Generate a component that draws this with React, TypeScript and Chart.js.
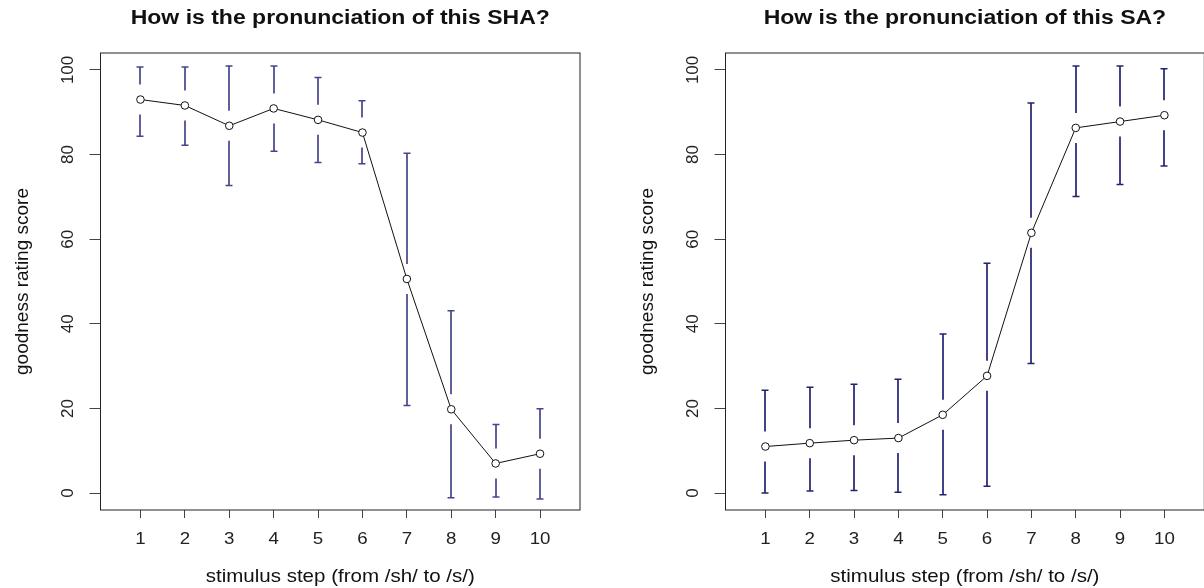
import React, { useEffect, useRef } from 'react';
import { Chart, registerables } from 'chart.js';

Chart.register(...registerables);

// ---- data ----
const steps = [1, 2, 3, 4, 5, 6, 7, 8, 9, 10];
const xTickValues = [1, 2, 3, 4, 5, 6, 7, 8, 9, 10];
const yTickValues = [0, 20, 40, 60, 80, 100];

const shaMean = [93.0, 91.6, 86.8, 90.9, 88.2, 85.2, 50.6, 19.8, 7.0, 9.3];
const shaUpper = [100.7, 100.7, 100.9, 100.9, 98.2, 92.7, 80.3, 43.1, 16.2, 19.9];
const shaLower = [84.3, 82.2, 72.7, 80.8, 78.1, 77.8, 20.7, -1.1, -0.9, -1.4];

const saMean = [11.0, 11.8, 12.5, 13.0, 18.5, 27.7, 61.5, 86.3, 87.8, 89.3];
const saUpper = [24.3, 25.0, 25.7, 26.9, 37.6, 54.3, 92.2, 100.9, 100.9, 100.3];
const saLower = [0.0, 0.5, 0.6, 0.2, -0.4, 1.6, 30.6, 70.1, 72.9, 77.3];

const titleSHA = 'How is the pronunciation of this SHA?';
const titleSA = 'How is the pronunciation of this SA?';
const xLabel = 'stimulus step (from /sh/ to /s/)';
const yLabel = 'goodness rating score';

const FONT = "'Liberation Sans', Arial, sans-serif";

function drawText(
  ctx: CanvasRenderingContext2D,
  s: string,
  x: number,
  y: number,
  font: string,
  color: string,
  rot = 0,
  sx = 1
) {
  ctx.save();
  ctx.translate(x, y);
  if (rot) ctx.rotate(rot);
  ctx.scale(sx, 1);
  ctx.font = font;
  ctx.fillStyle = color;
  ctx.textAlign = 'center';
  ctx.textBaseline = 'alphabetic';
  ctx.fillText(s, 0, 0);
  ctx.restore();
}

type PanelProps = {
  title: string;
  mean: number[];
  upper: number[];
  lower: number[];
  barColor: string;
  left: number;
  width: number;
  axisWidth: number;
  padRight: number;
};

function Panel({ title, mean, upper, lower, barColor, left, width, axisWidth, padRight }: PanelProps) {
  const ref = useRef<HTMLCanvasElement>(null);

  useEffect(() => {
    if (!ref.current) return;

    const errorBars = {
      id: 'errorBars',
      beforeDatasetsDraw(chart: any) {
        const { ctx, scales } = chart;
        const xs = scales.x;
        const ys = scales.y;
        const gap = 15;
        const cap = 3.5;
        ctx.save();
        ctx.strokeStyle = barColor;
        ctx.lineCap = 'butt';
        for (let i = 0; i < steps.length; i++) {
          const px = Math.round(xs.getPixelForValue(steps[i]));
          const pm = ys.getPixelForValue(mean[i]);
          const pu = ys.getPixelForValue(upper[i]);
          const pl = ys.getPixelForValue(lower[i]);
          ctx.lineWidth = 1.7;
          ctx.beginPath();
          if (pm - gap > pu) {
            ctx.moveTo(px, pu);
            ctx.lineTo(px, pm - gap);
          }
          if (pm + gap < pl) {
            ctx.moveTo(px, pm + gap);
            ctx.lineTo(px, pl);
          }
          ctx.stroke();
          ctx.lineWidth = 1.5;
          ctx.beginPath();
          ctx.moveTo(px - cap, pu);
          ctx.lineTo(px + cap, pu);
          ctx.moveTo(px - cap, pl);
          ctx.lineTo(px + cap, pl);
          ctx.stroke();
        }
        ctx.restore();
      },
    };

    const decor = {
      id: 'decor',
      afterDraw(chart: any) {
        const { ctx, chartArea: ca, scales } = chart;
        const xs = scales.x;
        const ys = scales.y;
        ctx.save();
        // box
        ctx.strokeStyle = '#222';
        ctx.lineWidth = 1;
        ctx.strokeRect(ca.left, ca.top, ca.right - ca.left, ca.bottom - ca.top);
        const cx = (ca.left + ca.right) / 2;
        const cy = (ca.top + ca.bottom) / 2;
        // title
        drawText(ctx, title, cx, 24, `bold 20px ${FONT}`, '#111', 0, 1.15);
        // x tick labels
        for (const v of xTickValues) {
          drawText(ctx, String(v), xs.getPixelForValue(v), 544, `17px ${FONT}`, '#222', 0, 1.1);
        }
        // y tick labels
        for (const v of yTickValues) {
          drawText(ctx, String(v), ca.left - 27.2, ys.getPixelForValue(v), `17px ${FONT}`, '#222', -Math.PI / 2, 1);
        }
        // axis titles
        drawText(ctx, xLabel, cx, 582, `19px ${FONT}`, '#111', 0, 1.08);
        drawText(ctx, yLabel, ca.left - 73, cy, `19px ${FONT}`, '#111', -Math.PI / 2, 1);
        ctx.restore();
      },
    };

    const chart = new Chart(ref.current, {
      type: 'line',
      data: {
        datasets: [
          {
            data: steps.map((s, i) => ({ x: s, y: mean[i] })),
            borderColor: '#111',
            borderWidth: 1,
            pointRadius: 3.8,
            pointBorderWidth: 1,
            pointBorderColor: '#111',
            pointBackgroundColor: '#fff',
            tension: 0,
            fill: false,
          },
        ],
      },
      options: {
        animation: false,
        responsive: false,
        events: [],
        layout: { padding: { top: 53, right: padRight, bottom: 0, left: 0 } },
        plugins: {
          legend: { display: false },
          tooltip: { enabled: false },
          title: { display: false },
        },
        scales: {
          x: {
            type: 'linear',
            min: 0.1,
            max: 10.9,
            afterBuildTicks: (s: any) => {
              s.ticks = xTickValues.map((v) => ({ value: v }));
            },
            afterFit: (s: any) => {
              s.height = 78;
            },
            ticks: { display: false },
            grid: {
              display: true,
              drawOnChartArea: false,
              drawTicks: true,
              tickLength: 8,
              tickColor: '#444',
              tickWidth: 1,
            },
            border: { display: false },
          },
          y: {
            type: 'linear',
            min: -4,
            max: 104,
            afterBuildTicks: (s: any) => {
              s.ticks = yTickValues.map((v) => ({ value: v }));
            },
            afterFit: (s: any) => {
              s.width = axisWidth;
            },
            ticks: { display: false },
            grid: {
              display: true,
              drawOnChartArea: false,
              drawTicks: true,
              tickLength: 11,
              tickColor: '#444',
              tickWidth: 1,
            },
            border: { display: false },
          },
        },
      },
      plugins: [errorBars, decor],
    } as any);

    return () => chart.destroy();
  }, []);

  return (
    <canvas
      ref={ref}
      width={width}
      height={588}
      style={{ position: 'absolute', left, top: 0, width, height: 588, display: 'block' }}
    />
  );
}

export default function App() {
  return (
    <div
      style={{
        position: 'fixed',
        left: 0,
        top: 0,
        width: 1204,
        height: 588,
        overflow: 'hidden',
        background: '#fff',
      }}
    >
      <Panel
        title={titleSHA}
        mean={shaMean}
        upper={shaUpper}
        lower={shaLower}
        barColor="#45458f"
        left={0}
        width={602}
        axisWidth={100.5}
        padRight={22}
      />
      <Panel
        title={titleSA}
        mean={saMean}
        upper={saUpper}
        lower={saLower}
        barColor="#232372"
        left={602}
        width={640}
        axisWidth={123.5}
        padRight={37.7}
      />
    </div>
  );
}
